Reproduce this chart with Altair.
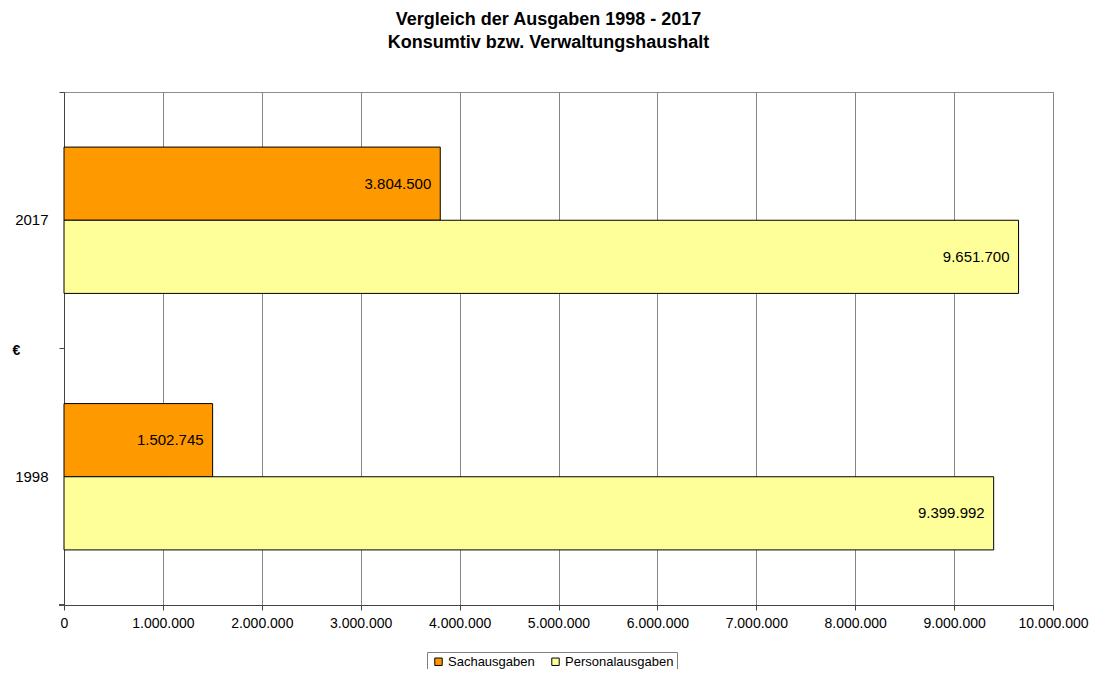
import altair as alt
import pandas as pd

years = ["2017", "1998"]
series = ["Sachausgaben", "Personalausgaben"]
sach = [3804500, 1502745]
pers = [9651700, 9399992]
colors = ["#FF9900", "#FFFF99"]
x_ticks = [0, 1000000, 2000000, 3000000, 4000000, 5000000,
           6000000, 7000000, 8000000, 9000000, 10000000]

rows = []
for i, y in enumerate(years):
    for s, v in zip(series, [sach[i], pers[i]]):
        rows.append({"Jahr": y, "Art": s, "Wert": v,
                     "Label": f"{v:,}".replace(",", ".")})
df = pd.DataFrame(rows)

FONT = "Liberation Sans"

y_enc = alt.Y("Jahr:N", sort=years,
              scale=alt.Scale(paddingInner=0, paddingOuter=0),
              axis=alt.Axis(title="€", titleAngle=0, titleFontWeight="bold",
                            titleFontSize=14, titleX=-52, titleY=258,
                            titleAlign="left", titleBaseline="middle",
                            bandPosition=0, labelOffset=0,
                            labelFontSize=15, labelColor="black",
                            labelPadding=11, tickSize=5, tickColor="#444",
                            domainColor="#444", grid=False))
yoff = alt.YOffset("Art:N", sort=series,
                   scale=alt.Scale(paddingInner=0, paddingOuter=0.753))
x_enc = alt.X("Wert:Q",
              scale=alt.Scale(domain=[0, 10000000], nice=False),
              axis=alt.Axis(title=None, values=x_ticks,
                            labelExpr="replace(format(datum.value, ',.0f'), /,/g, '.')",
                            labelOverlap=False, labelFlush=False,
                            labelFontSize=14, labelColor="black", labelPadding=6,
                            tickSize=5, tickColor="#444", domainColor="#444",
                            gridColor="#858585", gridOpacity=1))

bars = alt.Chart(df).mark_bar(stroke="black", strokeWidth=1).encode(
    x=x_enc, y=y_enc, yOffset=yoff,
    color=alt.Color("Art:N", sort=series,
                    scale=alt.Scale(domain=series, range=colors),
                    legend=alt.Legend(title=None, orient="none", direction="horizontal",
                                      legendX=363, legendY=560,
                                      symbolType="square", symbolSize=55,
                                      symbolStrokeColor="black", symbolStrokeWidth=1,
                                      symbolOffset=2,
                                      labelFontSize=13, labelColor="black", labelOffset=3,
                                      strokeColor="#808080", padding=3,
                                      columnPadding=12, labelLimit=300)),
)

labels = alt.Chart(df).mark_text(align="right", baseline="middle", dx=-9,
                                 fontSize=15, font=FONT, color="black").encode(
    x="Wert:Q", y=alt.Y("Jahr:N", sort=years), yOffset=alt.YOffset("Art:N", sort=series),
    text="Label:N",
)

tick_bottom = alt.Chart(df).mark_rule(color="#444").encode(
    x=alt.value(-5), x2=alt.value(0), y=alt.value(513)
)

chart = alt.layer(bars, labels, tick_bottom).properties(
    width=989, height=513,
    autosize=alt.AutoSizeParams(type="none"),
    padding={"left": 56, "top": 84, "right": 36, "bottom": 64},
    title=alt.TitleParams(text=["Vergleich der Ausgaben 1998 - 2017",
                                "Konsumtiv bzw. Verwaltungshaushalt"],
                          font=FONT, fontSize=18, fontWeight="bold", color="black",
                          anchor="middle", dx=-10, offset=40, lineHeight=23),
).configure(font=FONT).configure_view(stroke="#8c8c8c", strokeWidth=1)

chart.save("out.html", embed_options={"renderer": "svg", "actions": False})
